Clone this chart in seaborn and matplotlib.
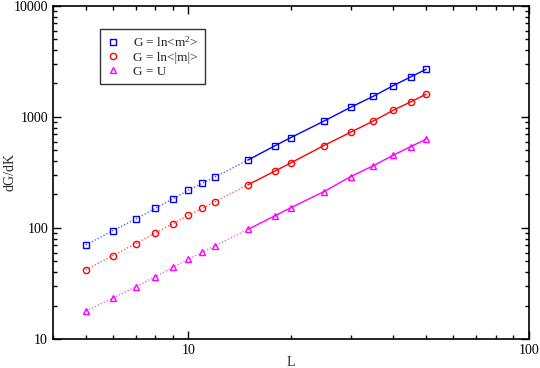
import numpy as np
import pandas as pd
import matplotlib
matplotlib.use("Agg")
import matplotlib.pyplot as plt
import seaborn as sns
from matplotlib.lines import Line2D

# system sizes and measured slopes
L = [5, 6, 7, 8, 9, 10, 11, 12, 15, 18, 20, 25, 30, 35, 40, 45, 50]
m2 = [70.3, 94.6, 119.7, 150, 182.5, 218.5, 253, 288, 410, 551, 651, 915, 1222, 1536, 1914, 2291, 2690]
absm = [42.1, 56.3, 72.2, 90.2, 109, 130, 150, 172.6, 245.5, 326, 385, 551, 728, 920, 1148, 1365, 1603]
U = [17.8, 23.4, 29.4, 36.4, 44.3, 52.2, 60.4, 69.3, 97.3, 129, 152, 212, 290, 364, 452, 540, 630]

labels = [r"G = ln<m$\mathregular{^2}$>", "G = ln<|m|>", "G = U"]
colors = ["#0000ff", "#ff0000", "#ff00ff"]
markers = ["s", "o", "^"]

sns.set_style("ticks")
plt.rcParams['font.family'] = ['Liberation Serif', 'DejaVu Serif']
plt.rcParams['mathtext.fontset'] = 'custom'
plt.rcParams['mathtext.rm'] = 'Liberation Serif'

df = pd.DataFrame({'L': L, labels[0]: m2, labels[1]: absm, labels[2]: U})
df = df.melt(id_vars='L', var_name='G', value_name='dGdK')

fig, ax = plt.subplots(figsize=(5.4, 3.68), dpi=100)
fig.subplots_adjust(left=0.098, right=0.979, top=0.984, bottom=0.079)

small = df[df.L <= 15]
large = df[df.L >= 15]
for lab, c, mk in zip(labels, colors, markers):
    s = small[small.G == lab]
    g = large[large.G == lab]
    sns.lineplot(data=s, x='L', y='dGdK', ax=ax, color=c, lw=0.9, linestyle=':',
                 alpha=0.75, marker=None)
    sns.lineplot(data=g, x='L', y='dGdK', ax=ax, color=c, lw=1.0, marker=None)
    d = df[df.G == lab]
    ax.plot(d.L, d.dGdK, ls='none', marker=mk, ms=4.5, mfc='none', mec=c, mew=1.0)

ax.set_xscale('log')
ax.set_yscale('log')
ax.set_xlim(4, 100)
ax.set_ylim(10, 10000)
ax.set_xlabel("L", fontsize=10)
ax.set_ylabel("dG/dK", fontsize=10)
ax.xaxis.set_label_coords(0.5, -0.052)
ax.yaxis.set_label_coords(-0.076, 0.5)

ax.xaxis.set_major_formatter(matplotlib.ticker.FuncFormatter(lambda v, p: f"{v:g}"))
ax.yaxis.set_major_formatter(matplotlib.ticker.FuncFormatter(lambda v, p: f"{v:g}"))
ax.xaxis.set_minor_formatter(matplotlib.ticker.NullFormatter())
ax.tick_params(which='both', direction='in', top=True, right=True, labelsize=10, colors='black')
ax.tick_params(which='major', length=6, width=1)
ax.tick_params(which='minor', length=3, width=1)
for sp in ax.spines.values():
    sp.set_linewidth(1.2)
    sp.set_color('black')

handles = [Line2D([], [], ls='none', marker=mk, ms=4.5, mfc='none', mec=c, mew=1.0)
           for c, mk in zip(colors, markers)]
leg = ax.legend(handles, labels, loc='upper left', bbox_to_anchor=(0.099, 0.931),
                fontsize=9.5, frameon=True, fancybox=False, handlelength=1.0,
                handletextpad=1.0, labelspacing=0.12, borderpad=0.5, borderaxespad=0)
leg.get_frame().set_edgecolor('black')
leg.get_frame().set_linewidth(1.0)

fig.savefig("out.png", dpi=100)
